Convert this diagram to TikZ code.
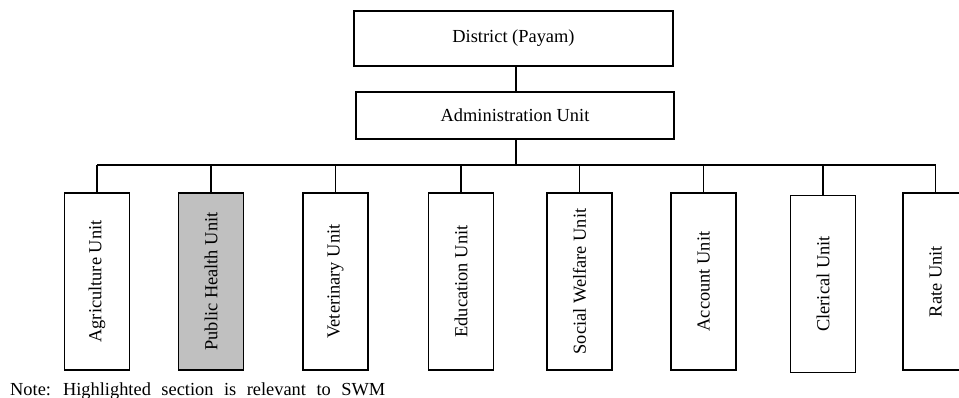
\documentclass[tikz,border=0pt]{standalone}
\usepackage{fontspec}
\setmainfont{Liberation Serif}
\begin{document}
\begin{tikzpicture}[x=1pt,y=-1pt,
  every node/.style={font=\fontsize{18.4}{22}\selectfont},
  topbox/.style={draw,line width=1.7pt,rectangle,inner sep=0pt},
  unitbox/.style={draw,line width=1.7pt,rectangle,inner sep=0pt,minimum width=65pt,minimum height=177pt},
  conn/.style={line width=1.6pt}]
\useasboundingbox (0,0) rectangle (959,398);
\node[topbox,minimum width=319pt,minimum height=55pt] (dist) at (513.5,38.5) {District (Payam)};
\node[topbox,minimum width=318pt,minimum height=47pt] (adm) at (515,115.5) {Administration Unit};
\coordinate (bus) at (516,165);
\node[unitbox] (agr) at (97,281.5) {\rotatebox{90}{Agriculture Unit}};
\node[unitbox,fill={rgb,255:red,192;green,192;blue,192}] (ph) at (211,281.5) {\rotatebox{90}{Public Health Unit}};
\node[unitbox] (vet) at (335.5,281.5) {\rotatebox{90}{Veterinary Unit}};
\node[unitbox] (edu) at (461,281.5) {\rotatebox{90}{Education Unit}};
\node[unitbox] (sw) at (579.5,281.5) {\rotatebox{90}{Social Welfare Unit}};
\node[unitbox] (acc) at (703.5,281.5) {\rotatebox{90}{Account Unit}};
\node[unitbox] (cler) at (823,284) {\rotatebox{90}{Clerical Unit}};
\node[unitbox] (rate) at (935.5,281.5) {\rotatebox{90}{Rate Unit}};
\draw[conn] (dist.south -| bus) -- (adm.north -| bus);
\draw[conn] (adm.south -| bus) -- (bus);
\draw[conn] (agr.north |- bus) -- (rate.north |- bus);
\foreach \n in {agr,ph,vet,edu,sw,acc,cler,rate}
  \draw[conn] (\n.north) -- (\n.north |- bus);
\node[anchor=base west,inner sep=0pt] (note) at (10,395) {\makebox[375pt][s]{Note: \hfill Highlighted \hfill section \hfill is \hfill relevant \hfill to \hfill SWM}};
\end{tikzpicture}
\end{document}
